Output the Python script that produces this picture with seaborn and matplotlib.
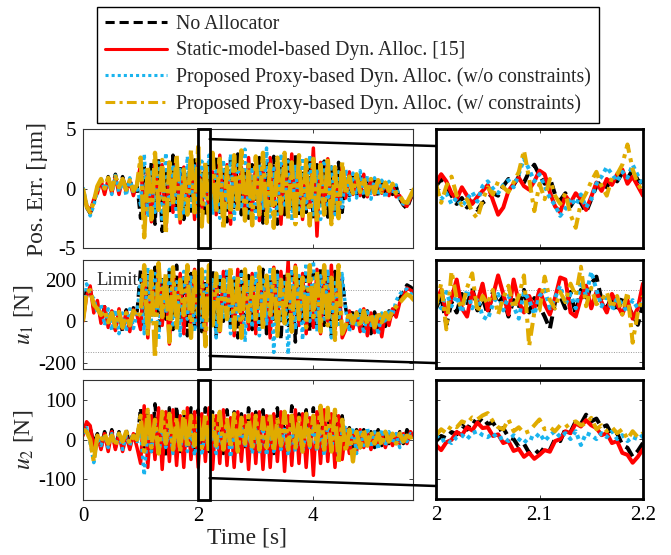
import numpy as np
import pandas as pd
import matplotlib
matplotlib.use("Agg")
import matplotlib.pyplot as plt
import seaborn as sns
from matplotlib.patches import Rectangle, ConnectionPatch

sns.set_style("ticks")
plt.rcParams["font.family"] = ["Liberation Serif", "DejaVu Serif"]
plt.rcParams["mathtext.fontset"] = "stix"

# ---------------- data ----------------
SERIES_NAMES = ["No Allocator",
                "Static-model-based Dyn. Alloc. [15]",
                "Proposed Proxy-based Dyn. Alloc. (w/o constraints)",
                "Proposed Proxy-based Dyn. Alloc. (w/ constraints)"]

T_STEP = 0.0625      # main panels sample spacing [s]
Z_START = 2.0        # zoom window start [s]
Z_STEP = 0.005       # zoom panels sample spacing [s]

# Position error [um], main panel
black_p1 = [-0.3, -1.6, -2.1, -1.2, 0.1, 0.6, -0.3, 1.0, -0.2, 1.2, -0.1, 1.0, -0.2, 0.8, -0.3, 0.3,
            -2.5, 1.8, -1.5, 2.2, -3.0, 2.5, -3.6, 1.5, -2.2, 2.8, -1.8, 2.0, -2.6, 1.2, -1.9, 2.4,
            -1.5, 1.6, -2.4, 2.2, -1.2, 2.6, -2.0, 1.8, -2.8, 2.4, -1.6, 2.9, -2.2, 1.4, -2.5, 2.0,
            -1.8, 2.6, -2.9, 2.2, -1.4, 2.7, -3.0, 1.9, -2.2, 2.4, -1.7, 2.8, -2.4, 1.6, -2.0, 2.5,
            -2.6, 2.0, -1.5, 2.3, -2.4, 1.8, -1.9, 2.2, -2.0,
            0.8, -0.6, 1.2, -0.5, 1.0, -0.7, 0.9, -0.4, 0.8, -0.6, 0.6, -0.3, 0.4, -0.5, 0.2, -0.9, -1.4, -1.7, -0.9, -0.2]
red_p1 = [-0.2, -1.4, -1.9, -0.9, -0.4, 0.7, -0.5, 0.8, -0.4, 1.0, -0.5, 0.8, -0.3, 0.6, -0.6, 0.4,
          2.0, -2.2, 1.5, -2.8, 2.3, -1.6, 2.0, -3.2, 1.6, -2.0, 2.6, -2.9, 1.8, -1.5, 2.2, -2.6,
          2.4, -1.8, 2.0, -2.6, 1.4, -2.2, 2.8, -1.5, 2.0, -3.0, 2.5, -1.7, 1.8, -2.4, 2.6, -1.9,
          2.2, -2.7, 1.6, -2.0, 2.6, -1.5, 2.1, -3.0, 2.4, -1.8, 2.9, -2.2, 1.7, -2.6, 2.0, -1.6,
          3.4, -4.0, 2.2, -1.9, 2.5, -2.7, 1.6, -2.2, 1.8,
          -0.8, 1.4, -0.5, 1.0, -0.6, 1.2, -0.7, 0.8, -0.5, 0.7, -0.4, 0.5, -0.6, 0.3, -0.7, -0.6, -1.3, -1.5, -0.8, -0.1]
cyan_p1 = [0.1, -1.3, -2.3, -1.4, -0.2, 0.9, -0.1, 0.7, -0.5, 1.1, -0.3, 0.7, -0.6, 0.9, -0.4, 0.2,
           -1.4, 2.9, -2.4, 1.6, -2.0, 2.2, -2.8, 3.0, -1.6, 2.0, -2.6, 1.6, -2.2, 2.7, -1.5, 1.9,
           -2.6, 2.3, -1.6, 2.8, -2.2, 1.5, -2.5, 2.4, -1.8, 2.9, -2.6, 2.0, -1.7, 3.3, -2.3, 1.8,
           -2.5, 2.0, -1.8, 3.4, -2.4, 1.7, -2.2, 2.9, -1.6, 2.3, -2.7, 2.0, -2.0, 2.6, -1.7, 2.8,
           -2.2, 1.6, -2.6, 2.4, -1.6, 2.0, -2.2, 1.4, -1.6,
           1.6, -1.0, 1.3, -0.8, 1.5, -0.6, 1.1, -0.9, 0.9, -0.6, 0.7, -0.8, 0.6, -0.4, 0.3, -1.0, -1.3, -1.4, -0.7, 0.0]
yellow_p1 = [0.0, -1.5, -2.0, -1.1, 0.2, 0.8, 0.0, 0.9, -0.1, 1.0, 0.1, 0.8, -0.1, 0.7, -0.2, 0.3,
             2.6, -4.1, 1.9, -2.6, 3.0, -1.8, 2.4, -3.8, 2.2, -1.4, 2.8, -2.8, 1.6, -2.2, 3.2, -2.0,
             3.5, -3.2, 2.2, -2.8, 3.0, -2.0, 2.5, -3.4, 1.8, -2.4, 2.8, -2.0, 3.2, -2.7, 2.0, -3.1,
             2.7, -2.2, 3.0, -2.9, 2.0, -3.3, 2.6, -2.1, 3.0, -2.6, 2.2, -3.0, 2.8, -2.3, 2.4, -3.1,
             2.5, -2.8, 2.0, -2.2, 2.6, -3.0, 1.8, -2.5, 2.2,
             -0.5, 1.0, -0.4, 1.2, -0.3, 0.9, -0.5, 0.8, -0.4, 0.7, -0.3, 0.5, -0.2, 0.4, -0.4, -0.6, -1.1, -1.2, -0.6, 0.0]

# u1 [N], main panel
black_u1 = [20, 160, 150, 60, 90, 10, 70, -20, 60, -40, 50, -55, 55, -30, 65, 40,
            250, -20, 220, 40, 260, -60, 200, 10, 240, -40, 270, 0, 210, -70, 230, -30,
            230, -50, 190, 20, 250, -70, 210, 0, 260, -30, 200, -80, 240, 10, 220, -40,
            210, -30, 250, -60, 200, 10, 240, -90, 230, -20, 260, -100, 220, 0, 250, -50,
            230, -40, 260, -20, 210, -70, 240, 10, 200,
            60, -30, 55, -20, 65, -45, 50, -60, 45, -40, 30, -25, 50, 10, 80, 110, 140, 175, 165, 150]
red_u1 = [0, 120, 170, 40, 100, -10, 70, -30, 50, -45, 60, -35, 45, -50, 55, 30,
          -40, 240, -80, 210, 30, 260, -20, 190, -110, 250, 20, 230, -60, 200, -10, 250,
          -20, 220, -60, 260, 10, 200, -50, 240, 30, 210, -70, 250, -10, 190, -40, 230,
          -60, 230, 0, 200, -80, 260, -30, 240, 20, 290, -50, 270, -20, 230, -60, 210,
          -30, 250, -60, 220, 0, 270, -40, 230, -80,
          -40, 50, -35, 45, -50, 60, -70, 40, -55, 30, -75, 40, -20, 60, 20, 90, 120, 160, 150, 140]
cyan_u1 = [10, 180, 130, 110, 40, 80, -20, 60, -45, 55, -60, 40, -50, 60, -35, 35,
           200, -60, 260, 0, 230, -90, 210, 40, 250, -30, 190, -70, 240, 10, 220, -50,
           210, -40, 240, -10, 200, -80, 230, 20, 250, -60, 210, 0, 240, -100, 200, -30,
           240, -70, 210, -20, 260, -150, 230, 10, 200, -160, 250, -40, 220, -90, 280, 0,
           290, -50, 220, 10, 250, -80, 200, -30, 230,
           50, -50, 40, -30, 55, -60, 45, -20, 35, -65, 40, -10, 60, 30, 100, 130, 150, 155, 135, 120]
yellow_u1 = [0, 140, 150, 80, 60, 30, 50, -5, 40, -25, 45, -30, 40, -20, 50, 20,
             40, 270, -60, 240, -175, 280, 20, 230, -100, 260, -40, 200, 30, 270, -80, 240,
             30, 250, -120, 270, -20, 230, -60, 200, 10, 260, -40, 220, -80, 250, 0, 210,
             0, 260, -40, 220, 30, 250, -70, 200, -10, 240, -50, 260, 10, 210, -30, 270,
             20, 240, -50, 270, -20, 210, -90, 270, -60,
             -20, 45, -10, 40, -25, 50, -15, 35, -30, 45, -5, 40, 10, 50, 70, 90, 110, 130, 120, 100]

# u2 [N], main panel
black_u2 = [20, 40, 30, -10, 15, -20, 20, -15, 25, -20, 20, -25, 25, -15, 20, -10,
            80, -20, 70, -30, 90, -10, 75, -40, 80, -20, 85, -30, 70, -15, 80, -35,
            75, -25, 80, -30, 70, -20, 65, -35, 75, -15, 70, -30, 65, -25, 80, -20,
            70, -30, 75, -20, 65, -35, 80, -25, 70, -30, 85, -20, 65, -30, 75, -25,
            80, -25, 75, -30, 70, -20, 75, -35, 60,
            -20, 30, -25, 25, -20, 25, -15, 20, -20, 25, -15, 20, -10, 15, -15, 20, -10, 25, 10, 15]
red_u2 = [10, 45, 35, -20, 10, -25, 15, -30, 20, -25, 15, -30, 10, -25, 15, -20,
          -60, 85, -70, 60, -50, 80, -75, 70, -55, 75, -65, 60, -70, 80, -50, 70,
          -70, 65, -55, 80, -75, 60, -60, 75, -65, 55, -70, 70, -55, 60, -75, 65,
          -60, 70, -75, 60, -70, 65, -55, 70, -80, 60, -65, 75, -60, 65, -70, 55,
          -90, 70, -60, 75, -55, 65, -70, 60, -50,
          25, -35, 20, -30, 25, -20, 15, -25, 20, -15, 15, -20, 10, -15, 15, -10, 15, -10, 20, 5]
cyan_u2 = [15, 30, -10, -58, 5, -15, 10, -20, 15, -10, 20, -25, 10, -15, 15, -5,
           20, -90, 30, -30, 40, -40, 25, -20, 35, -35, 30, -25, 40, -30, 20, -40,
           30, -40, 25, -30, 35, -35, 20, -25, 30, -45, 25, -30, 35, -20, 25, -35,
           25, -35, 30, -40, 20, -30, 35, -25, 30, -40, 25, -30, 20, -35, 30, -20,
           30, -30, 25, -40, 35, -25, 30, -35, 20,
           35, -20, 30, -35, 25, -15, 30, -20, 20, -25, 25, -15, 20, -10, 15, -20, 10, -5, 15, 10]
yellow_u2 = [25, 20, 0, -55, 10, -5, 15, -10, 10, -15, 15, -5, 20, -10, 10, 0,
             60, -30, 75, -20, 50, -35, 70, -10, 65, -25, 55, -30, 70, -20, 60, -15,
             55, -20, 65, -30, 60, -15, 70, -25, 50, -20, 65, -30, 55, -10, 60, -25,
             60, -25, 55, -20, 65, -30, 50, -15, 70, -25, 60, -20, 55, -30, 65, -15,
             60, -20, 85, -25, 80, -30, 75, -60, 50,
             -30, 25, -55, 20, -20, 25, -15, 20, -10, 15, -15, 20, -5, 15, -10, 15, -5, 10, 5, 10]

# zoom window 2.0 - 2.2 s
black_z1 = [0.2, 0.8, 0.3, -0.6, -1.3, -0.8, -1.6, -1.1, -1.8, -1.2, -0.9, -0.4, -0.6, 0.2, 0.8, 0.3, 1.0, 0.5, 1.4, 2.0,
            1.1, 0.4, 0.9, -0.5, -1.0, -0.4, -1.5, -0.8, -1.2, -2.0, -0.9, 0.2, 0.6, 0.1, 1.0, 0.6, 1.3, 0.8, 1.6, 0.7, 0.4]
red_z1 = [0.5, 1.2, 0.6, -0.4, -0.9, 0.1, -0.6, -1.3, -0.7, -0.2, 0.3, -1.0, -2.2, -1.6, -0.2, 0.4, 0.9, 0.2, -0.1, 0.6,
          1.5, 1.2, -0.3, -1.5, -2.0, -0.6, -1.2, -0.4, -0.9, -1.8, -0.7, 0.5, -0.2, 0.8, 0.3, 1.2, 1.6, 0.4, 1.0, 0.2, -0.6]
cyan_z1 = [-0.3, -0.9, -0.4, -1.3, -0.8, -1.5, -0.9, -0.3, -1.1, 0.2, 0.6, 0.0, -0.4, 0.3, 0.7, 0.1, 1.2, 2.5, 1.6, 0.6,
           1.2, 0.2, -0.8, -1.4, -2.3, -1.7, -0.8, -1.4, -0.5, -1.6, -0.9, 0.4, 1.0, 1.8, 1.2, 0.6, 1.4, 0.9, 2.0, 1.1, 0.2]
yellow_z1 = [0.4, -1.2, 0.2, 1.0, -0.6, -1.4, -0.9, -2.0, -2.5, -1.0, 0.1, -0.5, 0.6, 0.1, -0.3, 0.5, 1.4, 3.2, 0.8, -1.9,
             0.4, -0.9, 0.8, -0.6, -1.3, -0.4, -2.2, -3.3, -1.2, -0.4, 0.6, 1.4, 0.2, -0.6, 0.9, 1.2, 2.0, 3.7, 1.6, 0.4, -0.3]

black_z2 = [60, 120, -20, 90, 40, 130, 70, 160, 50, 110, 30, 140, 80, 120, 20, 100, 60, 150, 40, 110,
            70, 20, -40, 90, 120, 60, 140, 30, 150, 90, 180, 214, 100, 60, 120, 40, 110, 70, 30, -20, 80]
red_z2 = [90, 150, 30, 110, 200, 60, 20, 140, 90, 180, 50, 120, 220, 130, 30, 200, 90, 40, 120, 60,
          150, 80, 30, 110, 210, 200, 40, 20, 110, 170, 60, 140, 90, 40, 130, 80, 30, 100, 10, 60, 180]
cyan_z2 = [100, 60, 140, 70, 120, 40, 150, 60, 110, 20, 6, 80, 130, 50, 120, 70, 10, 140, 100, 30,
           120, 150, 60, 110, 170, 80, 130, 60, 190, 120, 238, 150, 70, 130, 50, 110, 80, 40, 100, 60, 90]
yellow_z2 = [70, 180, -42, 240, 110, 60, 160, 230, 40, 120, 80, 150, 30, 110, 170, 60, 120, 220, -123, 40,
             50, 214, 100, 60, 140, 90, 180, 120, 262, 70, 160, 80, 100, 140, 60, 120, 30, 140, -107, 40, 120]

black_z3 = [-5, 8, 2, 18, 12, 35, 24, 48, 40, 55, 38, 42, 22, 28, 5, 0, -20, -12, -35, -25,
            -38, -20, -28, 0, -5, 25, 18, 45, 38, 62, 45, 52, 30, 35, 10, 15, -15, -22, -45, -30, -10]
red_z3 = [-15, -28, -8, -2, 18, 10, 30, 22, 42, 28, 30, 8, 12, -10, -5, -30, -25, -45, -35, -50,
          -40, -28, -32, -5, 0, 20, 15, 40, 32, 48, 35, 28, 10, 15, -10, -5, -35, -40, -60, -45, -25]
cyan_z3 = [10, -5, 0, -10, 5, 10, 0, 15, 20, 10, 5, 15, 0, 5, -5, 10, 0, -10, 5, 0,
           15, -5, 10, 20, 5, 15, 0, 20, -15, 15, 10, 0, 15, 5, 20, 0, 10, -5, 5, 0, 10]
yellow_z3 = [10, 25, 15, 35, 30, 45, 40, 55, 50, 60, 66, 45, 30, 25, 50, 20, 30, 15, 20, 35,
             50, 25, 30, 20, 35, 30, 40, 45, 35, 40, 54, 25, 35, 20, 30, 15, 25, 0, 20, 5, 15]

LIMIT = 150

# ---------------- styling ----------------
COLORS = ["#000000", "#ff0000", "#1ab4ee", "#e0ab00"]
LSTYLES = [(0, (3.0, 1.6)), "-", (0, (1.0, 1.0)), (0, (3.2, 1.4, 1.0, 1.4))]
MAIN_LSTYLES = [(0, (3.0, 1.6)), "-", (0, (1.0, 1.0)), (0, (6.0, 1.0, 1.0, 1.0))]
MAIN_LWS = [2.5, 2.5, 2.5, 3.1]
LW_ZOOM = 2.9

W, H = 671, 555
fig = plt.figure(figsize=(W / 100, H / 100), dpi=100)


def rect(x0, x1, top, bot):
    return [x0 / W, 1 - bot / H, (x1 - x0) / W, (bot - top) / H]


ax1 = fig.add_axes(rect(83, 413, 129, 248))
ax2 = fig.add_axes(rect(83, 413, 260, 369))
ax3 = fig.add_axes(rect(83, 413, 380, 500))
rx1 = fig.add_axes(rect(436, 643, 129, 248))
rx2 = fig.add_axes(rect(436, 643, 260, 368))
rx3 = fig.add_axes(rect(436, 643, 380, 499))

panels = [
    (ax1, rx1, [black_p1, red_p1, cyan_p1, yellow_p1], [black_z1, red_z1, cyan_z1, yellow_z1],
     (-5, 5), [-5, 0, 5], "Pos. Err. [µm]", (4.15, 3.57), -0.105),
    (ax2, rx2, [black_u1, red_u1, cyan_u1, yellow_u1], [black_z2, red_z2, cyan_z2, yellow_z2],
     (-230, 295), [-200, 0, 200], r"$u_1$ [N]", (-167, -206), -0.145),
    (ax3, rx3, [black_u2, red_u2, cyan_u2, yellow_u2], [black_z3, red_z3, cyan_z3, yellow_z3],
     (-152, 150), [-100, 0, 100], r"$u_2$ [N]", (-97, -119), -0.145),
]

for ax, rx, main, zoom, ylim, yt, ylab, (ya, yb), labx in panels:
    for vals, c, ls, lw in zip(main, COLORS, MAIN_LSTYLES, MAIN_LWS):
        t = np.arange(len(vals)) * T_STEP
        sns.lineplot(x=t, y=vals, color=c, linestyle=ls, lw=lw, ax=ax,
                     estimator=None, sort=False, zorder=2)
    for vals, c, ls in zip(zoom, COLORS, LSTYLES):
        t = Z_START + np.arange(len(vals)) * Z_STEP
        sns.lineplot(x=t, y=vals, color=c, linestyle=ls, lw=LW_ZOOM, ax=rx,
                     estimator=None, sort=False, zorder=2)
    for a in (ax, rx):
        a.set_ylim(*ylim)
        a.set_yticks(yt)
        a.tick_params(direction="in", length=3, width=0.6, top=True, right=True,
                      labelsize=15, pad=5, colors="#222222", labelcolor="black")
        a.set_xlabel("")
        a.set_ylabel("")
    ax.set_xlim(0, 5.73)
    ax.set_xticks([0, 2, 4])
    rx.set_xlim(2.0, 2.2)
    rx.set_xticks([2.0, 2.1, 2.2])
    rx.set_xticklabels(["2", "2.1", "2.2"])
    rx.tick_params(labelleft=False)
    ax.set_yticklabels([f"{v:d}" for v in yt])
    ax.set_ylabel(ylab, fontsize=17)
    ax.yaxis.set_label_coords(labx, 0.5)
    for s in ax.spines.values():
        s.set_linewidth(0.8)
        s.set_color("#333333")
    for s in rx.spines.values():
        s.set_linewidth(2.0)
        s.set_color("black")
    ax.add_patch(Rectangle((2.0, ylim[0]), 0.2, ylim[1] - ylim[0], fill=False,
                           ec="black", lw=2.0, clip_on=False, zorder=6))
    con = ConnectionPatch(xyA=(2.2, ya), coordsA=ax.transData,
                          xyB=(2.0, yb), coordsB=rx.transData,
                          color="black", lw=1.8, zorder=7)
    fig.add_artist(con)

for a in (ax1, ax2, rx1, rx2):
    a.tick_params(labelbottom=False)

ax3.set_xlabel("Time [s]", fontsize=17)
ax3.xaxis.set_label_coords(0.497, -0.23)

for a in (ax2, rx2):
    a.axhline(LIMIT, color="#999999", lw=0.7, ls=(0, (1, 1.5)), zorder=1)
    a.axhline(-LIMIT, color="#999999", lw=0.7, ls=(0, (1, 1.5)), zorder=1)
ax2.text(0.24, LIMIT + 4, "Limit", fontsize=13.5, ha="left", va="bottom", zorder=5)

# legend uses the zoom-panel line styles (as in the reference key)
handles = rx1.get_lines()[:4]
leg = fig.legend(handles, SERIES_NAMES, loc="upper left",
                 bbox_to_anchor=(97 / W, 1 - 7 / H), frameon=True, fancybox=False,
                 edgecolor="black", framealpha=1, fontsize=14.3, handlelength=3.1,
                 handletextpad=0.45, labelspacing=0.36, borderpad=0.42, borderaxespad=0)
leg.get_frame().set_linewidth(1.0)
for ln in leg.get_lines():
    ln.set_linewidth(2.2)

fig.savefig("out.png", dpi=100)
